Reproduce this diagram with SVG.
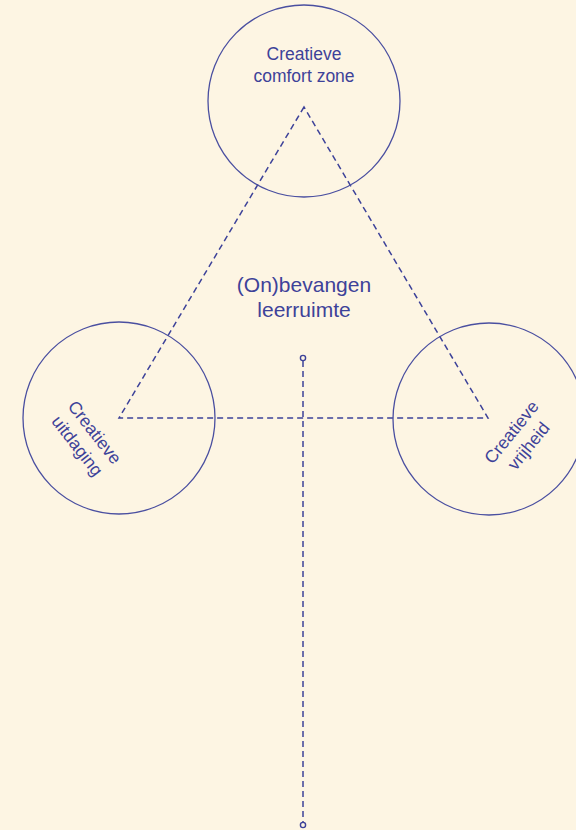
<svg xmlns="http://www.w3.org/2000/svg" width="576" height="830" viewBox="0 0 576 830">
<style>
.c{fill:none;stroke:#4a4fa0;stroke-width:1.3}
.d{fill:none;stroke:#3d4299;stroke-width:1.5;stroke-dasharray:6 4}
.t{font-family:"Liberation Sans",Arial,sans-serif;fill:#3d4299;text-anchor:middle}
.s{font-size:17.5px}
.m{font-size:21px}
.p{fill:#fdf5e3;stroke:#3d4299;stroke-width:1.4}
</style>
<rect width="576" height="830" fill="#fdf5e3"/>
<g id="connectors">
<polygon class="d" points="304,107 119,418 488,418"/>
<line class="d" x1="303" y1="361" x2="303" y2="822"/>
<circle class="p" cx="303" cy="358" r="2.6"/>
<circle class="p" cx="303" cy="825" r="2.6"/>
</g>
<g id="comfort">
<circle class="c" cx="304" cy="101" r="96"/>
<text class="t s" x="304" y="60">Creatieve</text>
<text class="t s" x="304" y="82">comfort zone</text>
</g>
<g id="uitdaging">
<circle class="c" cx="119" cy="418" r="96"/>
<g transform="translate(86,439) rotate(52)">
<text class="t s" x="0" y="-5">Creatieve</text>
<text class="t s" x="0" y="17">uitdaging</text>
</g>
</g>
<g id="vrijheid">
<circle class="c" cx="489" cy="419" r="96"/>
<g transform="translate(520,439) rotate(-51)">
<text class="t s" x="0" y="-5">Creatieve</text>
<text class="t s" x="0" y="17">vrijheid</text>
</g>
</g>
<g id="leerruimte">
<text class="t m" x="304" y="292">(On)bevangen</text>
<text class="t m" x="304" y="317">leerruimte</text>
</g>
</svg>
